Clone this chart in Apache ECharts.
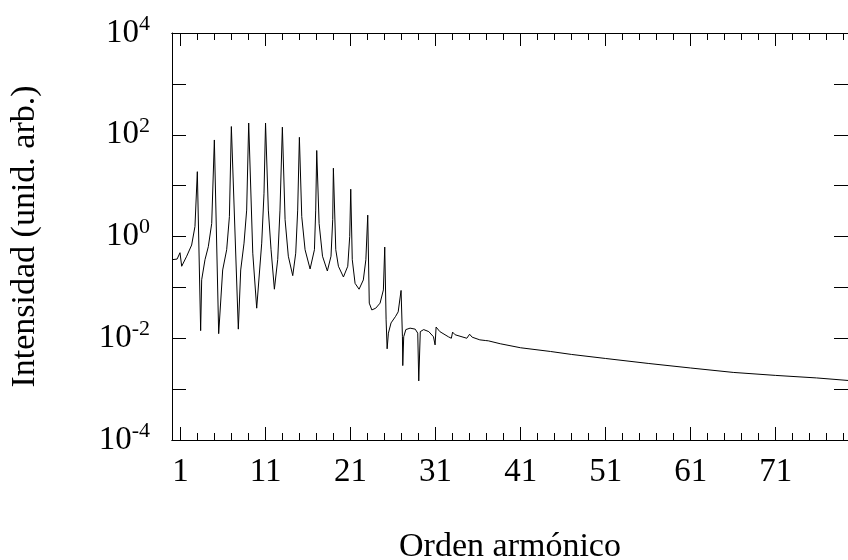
<!DOCTYPE html>
<html>
<head>
<meta charset="utf-8">
<script src="https://cdn.jsdelivr.net/npm/echarts@6/dist/echarts.min.js"></script>
<style>
  html, body { margin: 0; padding: 0; background: #fff; }
  #chart { width: 848px; height: 560px; }
</style>
</head>
<body>
<div id="chart"></div>
<script>
// espectro de armonicos
var harmonic = [
  0, 0.6, 0.94, 1.14, 1.73, 2.31, 2.7, 2.98, 3.37, 3.49,
  3.88, 4.27, 4.67, 4.98, 5.49, 5.96, 6.43, 6.75, 6.98, 7.8,
  8.08, 8.47, 8.78, 9.02, 9.5, 9.96, 10.55, 10.82, 11.0, 11.33,
  11.65, 12.04, 12.43, 12.7, 12.98, 13.3, 13.68, 14.2, 14.55, 14.78,
  14.98, 15.26, 15.65, 16.24, 16.75, 16.9, 17.02, 17.3, 17.7, 18.27,
  18.7, 18.9, 18.98, 19.26, 19.57, 20.16, 20.67, 20.9, 21.02, 21.2,
  21.53, 22.0, 22.5, 22.8, 23.02, 23.2, 23.5, 23.96, 24.47, 24.86,
  25.02, 25.18, 25.3, 25.45, 25.76, 26.3, 26.6, 26.94, 27.1, 27.14,
  27.25, 27.5, 28.0, 28.6, 28.9, 29.02, 29.2, 29.6, 30.2, 30.75,
  30.94, 31.06, 31.5, 32.5, 32.85, 33.0, 33.3, 34.67, 34.86, 35.0,
  35.3, 36.2, 36.9, 37.0, 37.2, 38.6, 41, 44.5, 47, 51,
  56, 61, 66, 71, 75.8, 79.5
];
var intensity = [
  0.35, 0.36, 0.48, 0.26, 0.41, 0.68, 1.57, 18.8, 0.0141, 0.141,
  0.35, 0.63, 1.8, 79, 0.0123, 0.22, 0.55, 2.45, 145, 0.0151,
  0.22, 0.74, 3.3, 170, 0.47, 0.039, 0.74, 7.1, 170, 3.3,
  0.55, 0.092, 0.35, 3.3, 141, 2.14, 0.41, 0.17, 0.47, 3.3,
  89, 2.45, 0.55, 0.23, 0.55, 3.3, 49, 1.8, 0.41, 0.21,
  0.41, 2.14, 22, 0.55, 0.26, 0.16, 0.26, 1.0, 8.5, 0.35,
  0.12, 0.092, 0.14, 0.35, 2.63, 0.049, 0.036, 0.039, 0.049, 0.089,
  0.62, 0.023, 0.0062, 0.0126, 0.02, 0.027, 0.033, 0.087, 0.0107, 0.0029,
  0.0107, 0.0148, 0.0158, 0.0151, 0.0126, 0.00145, 0.0135, 0.0148, 0.0135, 0.0107,
  0.0074, 0.0166, 0.0135, 0.0107, 0.0100, 0.0132, 0.0117, 0.0100, 0.0095, 0.0120,
  0.0105, 0.0093, 0.0090, 0.0094, 0.0089, 0.0078, 0.0065, 0.0055, 0.0048, 0.0040,
  0.0032, 0.0026, 0.00213, 0.00186, 0.00166, 0.00148
];

var xMajor = [1, 11, 21, 31, 41, 51, 61, 71];
var xMinor = [1, 3, 5, 7, 9, 11, 13, 15, 17, 19, 21, 23, 25, 27, 29, 31, 33, 35, 37, 39,
  41, 43, 45, 47, 49, 51, 53, 55, 57, 59, 61, 63, 65, 67, 69, 71, 73, 75, 77, 79];
var yTicks = [1e-4, 1e-3, 1e-2, 1e-1, 1, 1e1, 1e2, 1e3, 1e4];
var yLabels = [1e-4, 1e-2, 1, 1e2, 1e4];

var font = '"Liberation Serif", "Times New Roman", serif';

var points = [];
for (var i = 0; i < harmonic.length; i++) {
  points.push([harmonic[i], intensity[i]]);
}

function xAxisDef(pos, ticks, len, labels) {
  return {
    type: 'value',
    position: pos,
    min: 0,
    max: 79.5,
    axisLine: { show: true, onZero: false, lineStyle: { color: '#000', width: 1 } },
    axisTick: { show: true, inside: true, length: len, customValues: ticks,
      lineStyle: { color: '#000', width: 1 } },
    axisLabel: labels ? {
      show: true, customValues: xMajor, margin: 16,
      color: '#000', fontFamily: font, fontSize: 33
    } : { show: false },
    splitLine: { show: false }
  };
}

function yAxisDef(pos, labels) {
  return {
    type: 'log',
    logBase: 10,
    position: pos,
    min: 1e-4,
    max: 1e4,
    axisLine: { show: true, onZero: false, lineStyle: { color: '#000', width: 1 } },
    axisTick: { show: true, inside: true, length: 14, customValues: yTicks,
      lineStyle: { color: '#000', width: 1 } },
    axisLabel: labels ? {
      show: true, customValues: yLabels, margin: 22,
      formatter: function (v) {
        var e = Math.round(Math.log(v) / Math.LN10);
        return '{b|10}{s|' + (e < 0 ? '-' + (-e) : e) + '}';
      },
      rich: {
        b: { fontFamily: font, fontSize: 33, lineHeight: 40, color: '#000' },
        s: { fontFamily: font, fontSize: 22, lineHeight: 22, verticalAlign: 'top', color: '#000' }
      }
    } : { show: false },
    splitLine: { show: false }
  };
}

var bottomMajor = xAxisDef('bottom', xMajor, 13, true);
bottomMajor.name = 'Orden armónico';
bottomMajor.nameLocation = 'middle';
bottomMajor.nameGap = 90;
bottomMajor.nameTextStyle = { fontFamily: font, fontSize: 34, color: '#000' };

var leftAxis = yAxisDef('left', true);
leftAxis.name = 'Intensidad (unid. arb.)';
leftAxis.nameLocation = 'middle';
leftAxis.nameGap = 130;
leftAxis.nameTextStyle = { fontFamily: font, fontSize: 34, color: '#000' };

var chart = echarts.init(document.getElementById('chart'), null, { renderer: 'canvas' });
var option = {
  backgroundColor: '#fff',
  animation: false,
  grid: { left: 172, right: 0, top: 33, bottom: 120, containLabel: false, outerBoundsMode: 'none' },
  xAxis: [
    bottomMajor,
    xAxisDef('bottom', xMinor, 7, false),
    xAxisDef('top', xMajor, 13, false),
    xAxisDef('top', xMinor, 7, false)
  ],
  yAxis: [
    leftAxis,
    yAxisDef('right', false)
  ],
  series: [
    {
      type: 'line',
      xAxisIndex: 0,
      yAxisIndex: 0,
      data: points,
      showSymbol: false,
      symbol: 'none',
      lineStyle: { color: '#000', width: 1 },
      silent: true
    }
  ]
};
chart.setOption(option);
</script>
</body>
</html>
